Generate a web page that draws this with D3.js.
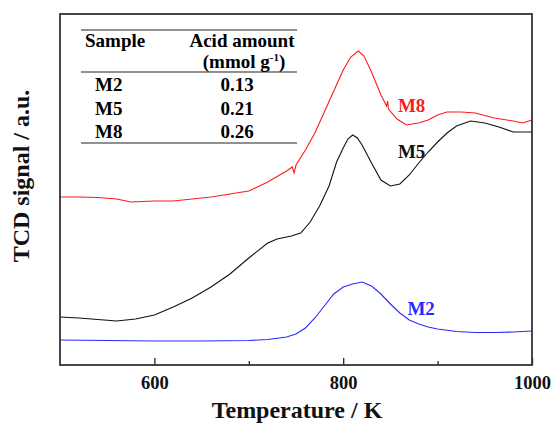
<!DOCTYPE html>
<html>
<head>
<meta charset="utf-8">
<script src="https://cdn.jsdelivr.net/npm/d3@7"></script>
<style>
  body { margin: 0; background: #fff; }
</style>
</head>
<body>
<svg id="chart" width="553" height="425"></svg>
<script>
// TPD profiles, signal in arbitrary units
var tempM2 = [500,550,600,650,700,720,740,750,760,770,780,790,800,810,820,830,840,850,860,870,880,890,900,920,940,960,980,1000];
var sigM2  = [25,24.5,24,24,24.5,25.5,28,31,37,47,59,71,78,81,83,79,71,61,52,45,41,38,36,33.5,32.5,32.5,33,34];

var tempM5 = [500,520,540,560,580,600,620,640,660,680,700,720,730,745,755,765,775,785,793,800,805,810,815,820,830,840,850,860,870,880,890,900,910,920,935,950,965,980,1000];
var sigM5  = [48,47,45.5,44,46,50,58,67,78,91,107,122,126,129,132,143,159,179,203,217,226,230,227,220,202,185,179,181,190,202,213,223,232,239,244,242,238,233,233];

var tempM8 = [500,520,540,560,575,600,620,640,660,680,700,720,740,746,748,750,760,770,780,790,800,808,816,822,830,840,846,847,848,857,867,880,890,900,910,925,940,960,980,990,1000];
var sigM8  = [168,168,167.5,166,163,164,164,166,168,171,174,183,194,198,192,200,215,232,253,274,295,308,314,309,293,270,259,264,256,246,240,242,245,250,253,253,252,247,244,242,245];

var xTicks = [600, 800, 1000];
var xMinor = [700, 900];

var samples = ["M2", "M5", "M8"];
var acid = ["0.13", "0.21", "0.26"];

var FONT = "'Liberation Serif'";

var width = 553, height = 425;
var margin = {left: 60, right: 21, top: 14, bottom: 60};

var svg = d3.select("#chart");

var x = d3.scaleLinear().domain([500, 1000]).range([margin.left, width - margin.right]);
var y = d3.scaleLinear().domain([0, 351]).range([height - margin.bottom, margin.top]);

var line = d3.line()
    .x(function(d) { return x(d[0]); })
    .y(function(d) { return y(d[1]); })
    .curve(d3.curveLinear);

var series = [
  {name: "M2", t: tempM2, s: sigM2, col: "#2a2aff", lx: 868, ly: 50},
  {name: "M5", t: tempM5, s: sigM5, col: "#111", lx: 858, ly: 207},
  {name: "M8", t: tempM8, s: sigM8, col: "#ff1a1a", lx: 858, ly: 253}
];

series.forEach(function(sr) {
  svg.append("path")
    .datum(sr.t.map(function(t, i) { return [t, sr.s[i]]; }))
    .attr("d", line)
    .style("fill", "none")
    .style("stroke", sr.col)
    .attr("stroke-width", 1.1);
  svg.append("text")
    .attr("x", x(sr.lx))
    .attr("y", y(sr.ly))
    .attr("font-size", 19)
    .style("fill", sr.col)
    .text(sr.name);
});

// x axis, ticks pointing inward
var gx = svg.append("g").attr("transform", "translate(0," + y(0) + ")");
gx.call(d3.axisBottom(x).tickValues(xTicks).tickSize(-7).tickPadding(11).tickFormat(d3.format("d")));
gx.append("g").call(d3.axisBottom(x).tickValues(xMinor).tickSize(-4).tickFormat(""));
gx.selectAll(".domain").remove();
gx.selectAll("line").attr("stroke", "#222").attr("stroke-width", 1.3);
gx.selectAll("text").attr("font-size", 18.5).style("fill", "#111");

// frame
svg.append("rect")
  .attr("x", x(500)).attr("y", y(351))
  .attr("width", x(1000) - x(500)).attr("height", y(0) - y(351))
  .style("fill", "none").style("stroke", "#333").attr("stroke-width", 1.8);

svg.append("text")
  .attr("x", 297).attr("y", 418)
  .attr("text-anchor", "middle").attr("font-size", 24)
  .style("fill", "#111")
  .text("Temperature / K");

svg.append("text")
  .attr("transform", "translate(29,176) rotate(-90)")
  .attr("text-anchor", "middle").attr("font-size", 24)
  .style("fill", "#111")
  .text("TCD signal / a.u.");

// inset table
var tb = svg.append("g");
[30, 72, 143].forEach(function(ly) {
  tb.append("line").attr("x1", 81).attr("x2", 297).attr("y1", ly).attr("y2", ly)
    .style("stroke", "#222").attr("stroke-width", 1.2);
});
tb.append("text").attr("x", 85).attr("y", 47).attr("font-size", 19).text("Sample");
tb.append("text").attr("x", 242).attr("y", 47).attr("font-size", 19).attr("text-anchor", "middle").text("Acid amount");
var unit = tb.append("text").attr("x", 244).attr("y", 68).attr("font-size", 19).attr("text-anchor", "middle");
unit.append("tspan").text("(mmol g");
unit.append("tspan").attr("dy", -7).attr("font-size", 11).text("-1");
unit.append("tspan").attr("dy", 7).text(")");
var rowY = [91, 115, 138];
samples.forEach(function(s, i) {
  tb.append("text").attr("x", 95).attr("y", rowY[i]).attr("font-size", 19).text(s);
  tb.append("text").attr("x", 237).attr("y", rowY[i]).attr("font-size", 19).attr("text-anchor", "middle").text(acid[i]);
});

svg.selectAll("text")
  .attr("font-family", null)
  .style("font-family", FONT)
  .style("font-weight", "bold");
</script>
</body>
</html>
